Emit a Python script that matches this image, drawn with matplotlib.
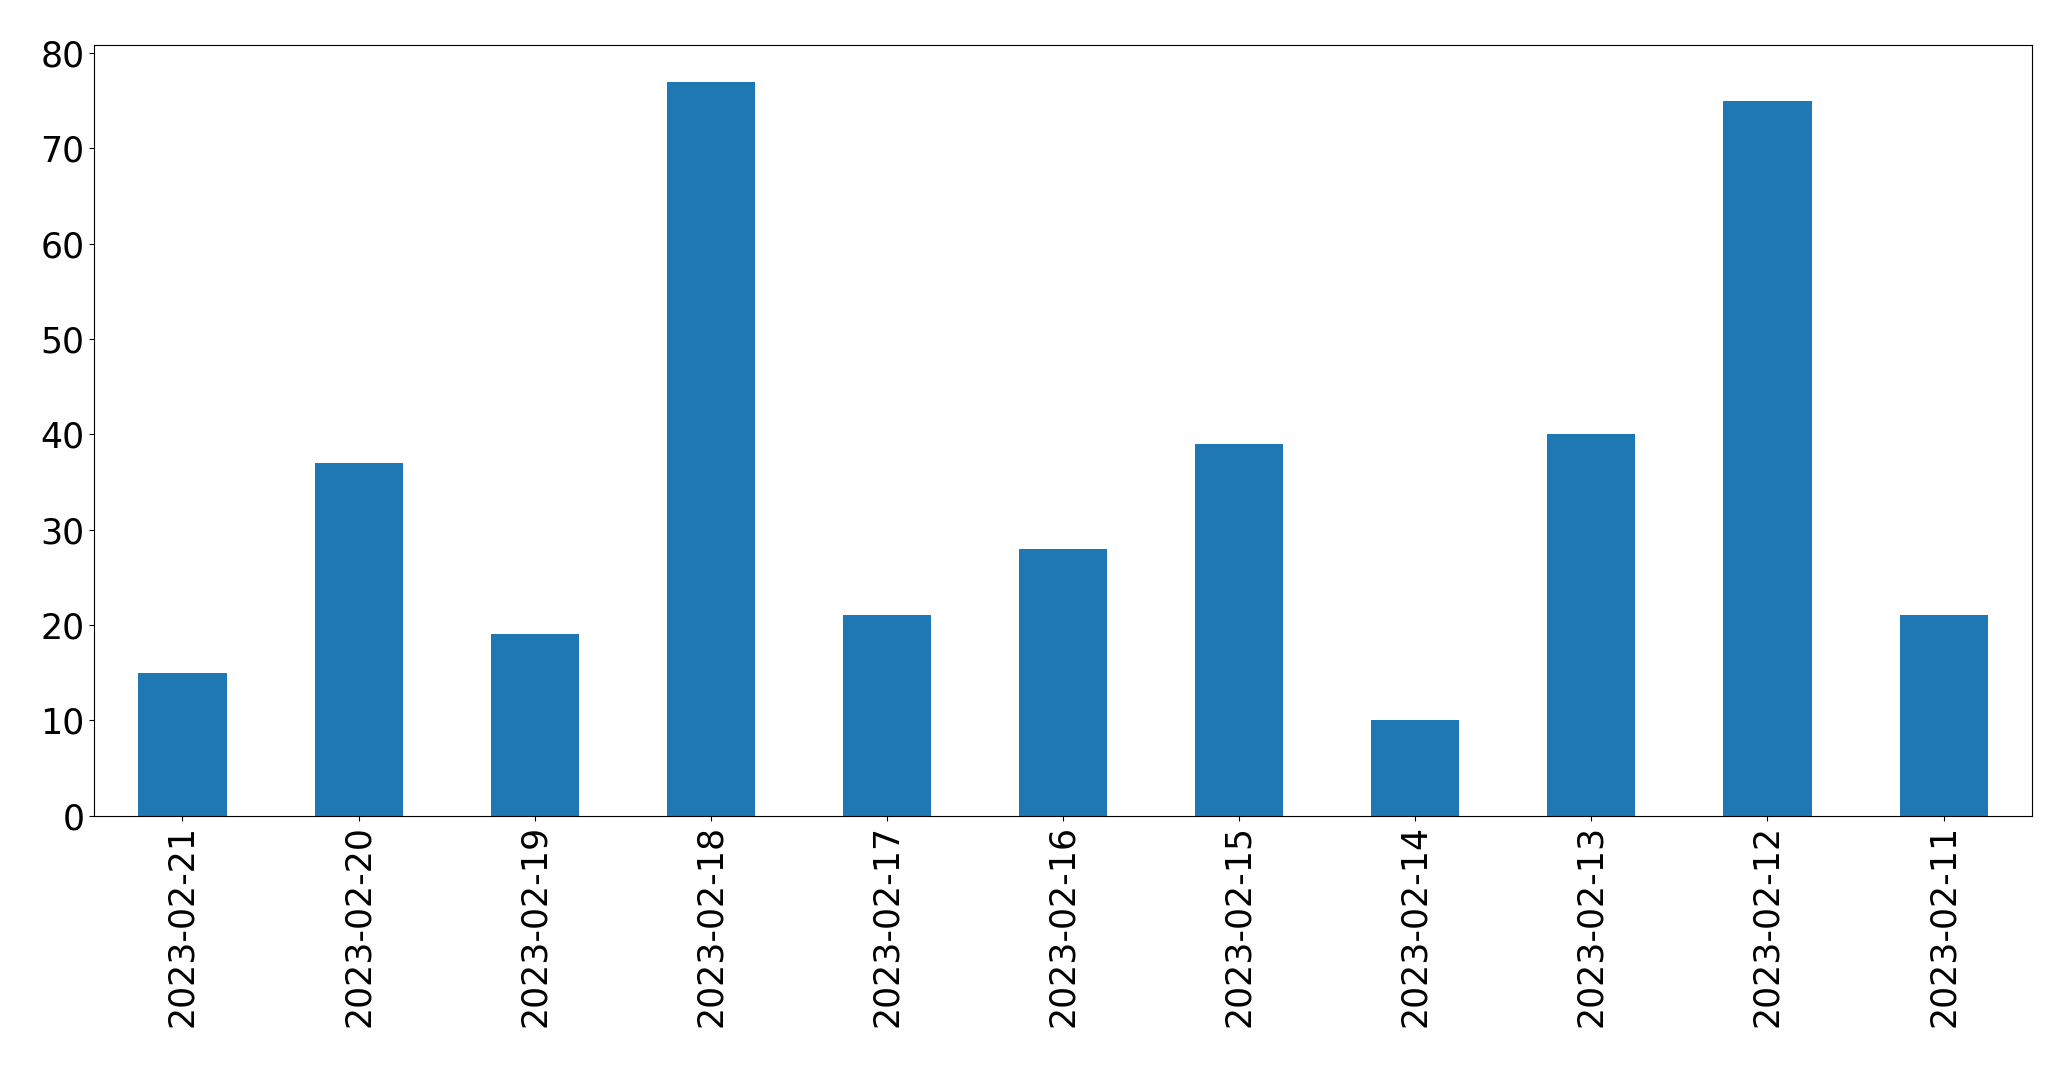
import matplotlib
matplotlib.use("Agg")
import matplotlib.pyplot as plt
import pandas as pd

dates = [
    "2023-02-21", "2023-02-20", "2023-02-19", "2023-02-18", "2023-02-17",
    "2023-02-16", "2023-02-15", "2023-02-14", "2023-02-13", "2023-02-12",
    "2023-02-11",
]
counts = [15, 37, 19, 77, 21, 28, 39, 10, 40, 75, 21]

series = pd.Series(counts, index=dates)

fig = plt.figure(figsize=(20.71, 10.67), dpi=100)
ax = fig.add_axes([0.0456, 0.2357, 0.9354, 0.7221])
series.plot(kind="bar", ax=ax, fontsize=25)
ax.set_xlabel("")

fig.savefig("out.png", dpi=100)
